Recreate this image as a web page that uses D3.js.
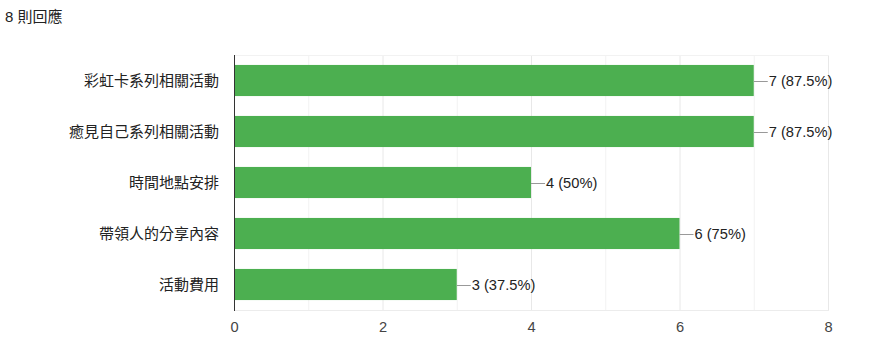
<!DOCTYPE html>
<html>
<head>
<meta charset="utf-8">
<script src="https://cdn.jsdelivr.net/npm/d3@7"></script>
<style>
  body { margin: 0; background: #fff; font-family: "Liberation Sans", Arial, "Noto Sans CJK TC", sans-serif; }
  text { font-family: "Liberation Sans", Arial, "Noto Sans CJK TC", sans-serif; }
</style>
</head>
<body>
<svg id="chart" width="872" height="352"></svg>
<script>
const categories = ["彩虹卡系列相關活動", "癒見自己系列相關活動", "時間地點安排", "帶領人的分享內容", "活動費用"];
const counts = [7, 7, 4, 6, 3];
const percents = ["87.5%", "87.5%", "50%", "75%", "37.5%"];
const xTicks = [0, 2, 4, 6, 8];
const totalResponses = 8;

const svg = d3.select("#chart");
const plotLeft = 234, plotRight = 828, plotTop = 55, plotBottom = 310;
const fs = "14.67px";

// title
svg.append("text")
    .attr("x", 5)
    .attr("y", 22)
    .style("font-size", "15px")
    .attr("fill", "#222")
    .text(totalResponses + " 則回應");

const x = d3.scaleLinear().domain([0, 8]).range([plotLeft, plotRight]);
const y = d3.scaleBand().domain(categories).range([plotTop, plotBottom]).paddingInner(0.39).paddingOuter(0.195);

// gridlines every unit
svg.append("g")
    .selectAll("line")
    .data(d3.range(1, 9))
    .enter()
    .append("line")
    .attr("x1", d => x(d) + 0.5)
    .attr("x2", d => x(d) + 0.5)
    .attr("y1", plotTop)
    .attr("y2", plotBottom)
    .attr("stroke", d => d % 2 === 0 ? "#e8e8e8" : "#f2f2f2");

// top/bottom frame lines
svg.append("line")
    .attr("x1", plotLeft).attr("x2", plotRight + 1)
    .attr("y1", plotTop + 0.5).attr("y2", plotTop + 0.5)
    .attr("stroke", "#f2f2f2");
svg.append("line")
    .attr("x1", plotLeft).attr("x2", plotRight + 1)
    .attr("y1", plotBottom + 0.5).attr("y2", plotBottom + 0.5)
    .attr("stroke", "#ececec");

// bars
svg.selectAll(".bar")
    .data(counts)
    .enter()
    .append("rect")
    .attr("class", "bar")
    .attr("x", x(0))
    .attr("y", (d, i) => y(categories[i]))
    .attr("width", d => x(d) - x(0))
    .attr("height", y.bandwidth())
    .attr("fill", "#4caf50");

// connector lines and value labels
counts.forEach((d, i) => {
    const cy = y(categories[i]) + y.bandwidth() / 2;
    svg.append("line")
        .attr("x1", x(d)).attr("x2", x(d) + 14)
        .attr("y1", Math.round(cy) + 0.5).attr("y2", Math.round(cy) + 0.5)
        .attr("stroke", "#999");
    svg.append("text")
        .attr("x", x(d) + 15)
        .attr("y", cy)
        .attr("dy", "0.36em")
        .style("font-size", fs)
        .attr("fill", "#222")
        .text(d + " (" + percents[i] + ")");
});

// category labels
svg.selectAll(".cat")
    .data(categories)
    .enter()
    .append("text")
    .attr("class", "cat")
    .attr("x", 219)
    .attr("y", d => y(d) + y.bandwidth() / 2)
    .attr("dy", "0.36em")
    .attr("text-anchor", "end")
    .style("font-size", "15px")
    .attr("fill", "#222")
    .text(d => d);

// x tick labels
svg.selectAll(".tick-label")
    .data(xTicks)
    .enter()
    .append("text")
    .attr("class", "tick-label")
    .attr("x", d => x(d) + 0.5)
    .attr("y", 332)
    .attr("text-anchor", "middle")
    .style("font-size", fs)
    .attr("fill", "#444")
    .text(d => d);

// y axis line
svg.append("line")
    .attr("x1", plotLeft + 0.5).attr("x2", plotLeft + 0.5)
    .attr("y1", plotTop).attr("y2", plotBottom + 1)
    .attr("stroke", "#333");
</script>
</body>
</html>
